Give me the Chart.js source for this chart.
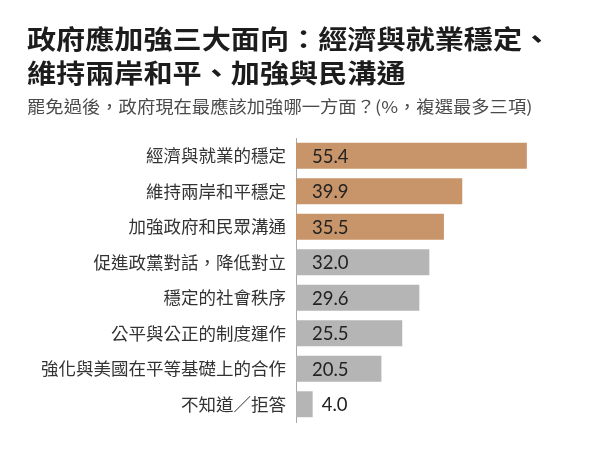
<!DOCTYPE html>
<html>
<head>
<meta charset="utf-8">
<script src="https://cdn.jsdelivr.net/npm/chart.js@4.4.1/dist/chart.umd.min.js"></script>
<style>
  html, body { margin: 0; padding: 0; background: #fff; }
  #wrap { position: relative; width: 590px; height: 450px; overflow: hidden; }
  canvas { position: absolute; left: 0; top: 0; }
  .title { position: absolute; left: 27px; top: 21px; font-family: "Noto Sans CJK TC", sans-serif; font-weight: 700;
           font-size: 26px; line-height: 34px; color: #1c1c1c; white-space: nowrap;
           transform: scaleX(1.12); transform-origin: 0 0; }
  .subtitle { position: absolute; left: 27px; top: 96px; font-family: "Noto Sans CJK TC", sans-serif; font-weight: 400;
           font-size: 16.5px; line-height: 20px; color: #4a4a4a; white-space: nowrap;
           transform: scaleX(1.11); transform-origin: 0 0; }
</style>
</head>
<body>
<div id="wrap">
  <canvas id="c" width="590" height="450"></canvas>
  <div class="title">政府應加強三大面向：經濟與就業穩定、<br>維持兩岸和平、加強與民溝通</div>
  <div class="subtitle">罷免過後，政府現在最應該加強哪一方面？(%，複選最多三項)</div>
</div>
<script>
const categories = [
  "經濟與就業的穩定",
  "維持兩岸和平穩定",
  "加強政府和民眾溝通",
  "促進政黨對話，降低對立",
  "穩定的社會秩序",
  "公平與公正的制度運作",
  "強化與美國在平等基礎上的合作",
  "不知道／拒答"
];
const values = [55.4, 39.9, 35.5, 32.0, 29.6, 25.5, 20.5, 4.0];
const highlightedCount = 3;

const ORANGE = "#c8956a";
const GRAY = "#b5b5b5";

const valueLabels = {
  id: "valueLabels",
  afterDatasetsDraw(chart) {
    const ctx = chart.ctx;
    const meta = chart.getDatasetMeta(0);
    const x0 = chart.scales.x.getPixelForValue(0);
    ctx.save();
    ctx.font = "18.5px Lato, 'Liberation Sans', sans-serif";
    ctx.fillStyle = "#222";
    ctx.textAlign = "left";
    ctx.textBaseline = "middle";
    meta.data.forEach((bar, i) => {
      const text = values[i].toFixed(1);
      const w = ctx.measureText(text).width;
      const inside = (bar.x - x0) > (w + 24);
      const x = inside ? x0 + 16 : bar.x + 9;
      ctx.fillText(text, x, bar.y + 1);
    });
    ctx.restore();
  }
};

new Chart(document.getElementById("c"), {
  type: "bar",
  data: {
    labels: categories,
    datasets: [{
      data: values,
      backgroundColor: (c) => c.dataIndex < highlightedCount ? ORANGE : GRAY,
      borderWidth: 0,
      categoryPercentage: 1.0,
      barPercentage: 0.73
    }]
  },
  options: {
    indexAxis: "y",
    responsive: false,
    animation: false,
    layout: { padding: { left: 0, right: 44, top: 138, bottom: 28 } },
    plugins: { legend: { display: false }, tooltip: { enabled: false }, title: { display: false } },
    scales: {
      x: { display: false, min: 0, max: 60 },
      y: {
        afterFit(s) { s.width = 296; },
        grid: { display: true, color: "rgba(0,0,0,0)", drawTicks: false },
        border: { display: true, color: "#a8a8a8", width: 1 },
        ticks: {
          padding: 10,
          color: "#333",
          font: { family: "'Noto Sans CJK TC', sans-serif", size: 17.5 }
        }
      }
    }
  },
  plugins: [valueLabels]
});
</script>
</body>
</html>
